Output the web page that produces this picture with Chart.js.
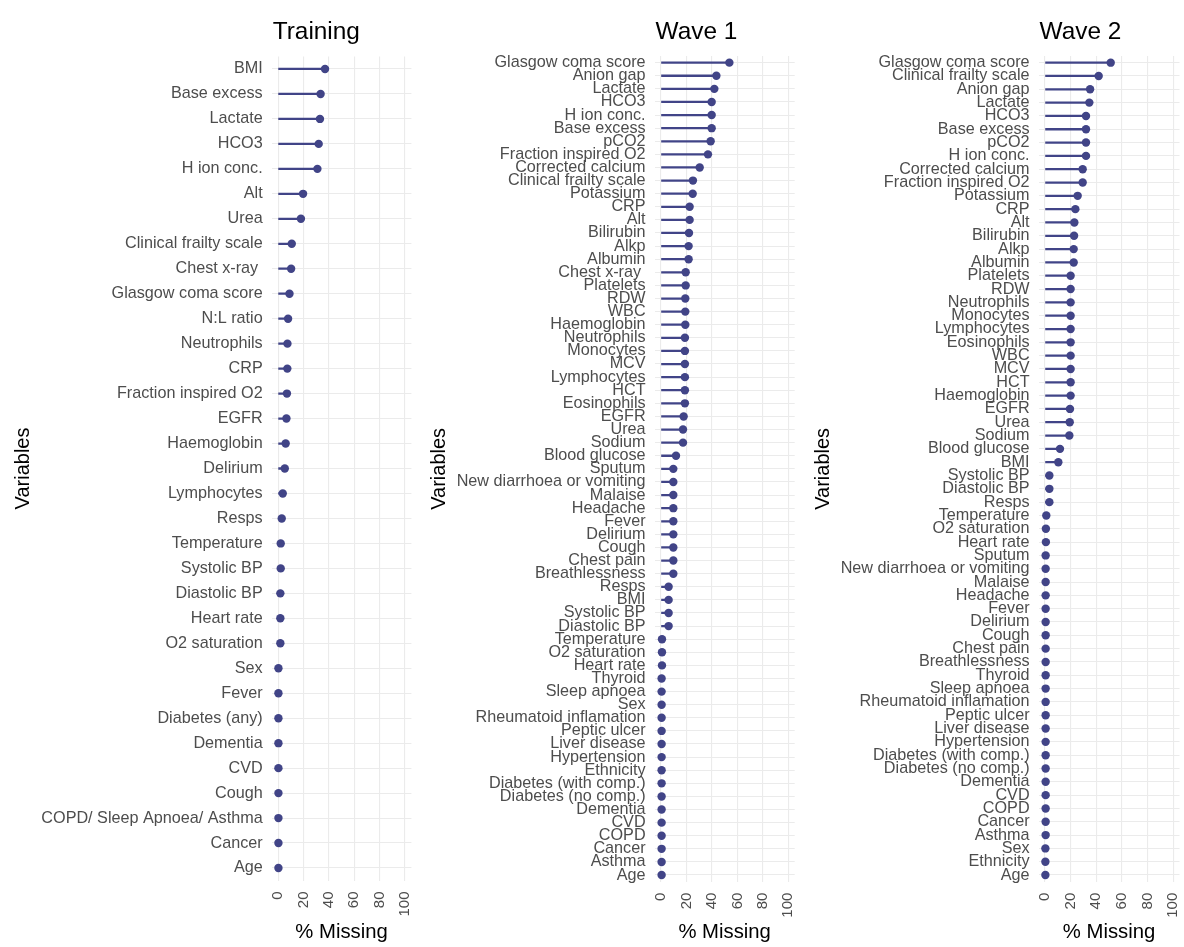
<!DOCTYPE html>
<html>
<head>
<meta charset="utf-8">
<script src="https://cdn.jsdelivr.net/npm/chart.js@4.4.1/dist/chart.umd.min.js"></script>
<style>
  html, body { margin: 0; padding: 0; background: #ffffff; }
  body { width: 1184px; height: 947px; position: relative; overflow: hidden; }
  canvas { position: absolute; top: 0; }
</style>
</head>
<body>
<canvas id="c1" width="420" height="947" style="left:0px"></canvas>
<canvas id="c2" width="380" height="947" style="left:420px"></canvas>
<canvas id="c3" width="384" height="947" style="left:800px"></canvas>
<script>
// ---- data ----
const panelTitles = ["Training", "Wave 1", "Wave 2"];
const xTicks = [0, 20, 40, 60, 80, 100];
const xTitle = "% Missing";
const yTitle = "Variables";

const trainingLabels = ["BMI", "Base excess", "Lactate", "HCO3", "H ion conc.", "Alt", "Urea",
  "Clinical frailty scale", "Chest x-ray ", "Glasgow coma score", "N:L ratio", "Neutrophils", "CRP",
  "Fraction inspired O2", "EGFR", "Haemoglobin", "Delirium", "Lymphocytes", "Resps", "Temperature",
  "Systolic BP", "Diastolic BP", "Heart rate", "O2 saturation", "Sex", "Fever", "Diabetes (any)",
  "Dementia", "CVD", "Cough", "COPD/ Sleep Apnoea/ Asthma", "Cancer", "Age"];
const trainingValues = [37, 33.5, 33, 32, 31, 19.7, 18,
  10.8, 10.3, 9, 7.9, 7.4, 7.3,
  7, 6.6, 6, 5.3, 3.7, 2.9, 2.1,
  2.1, 1.8, 1.8, 1.8, 0.3, 0.3, 0.3,
  0.3, 0.3, 0.3, 0.3, 0.3, 0.3];

const wave1Labels = ["Glasgow coma score", "Anion gap", "Lactate", "HCO3", "H ion conc.", "Base excess",
  "pCO2", "Fraction inspired O2", "Corrected calcium", "Clinical frailty scale", "Potassium", "CRP", "Alt",
  "Bilirubin", "Alkp", "Albumin", "Chest x-ray ", "Platelets", "RDW", "WBC", "Haemoglobin", "Neutrophils",
  "Monocytes", "MCV", "Lymphocytes", "HCT", "Eosinophils", "EGFR", "Urea", "Sodium", "Blood glucose",
  "Sputum", "New diarrhoea or vomiting", "Malaise", "Headache", "Fever", "Delirium", "Cough", "Chest pain",
  "Breathlessness", "Resps", "BMI", "Systolic BP", "Diastolic BP", "Temperature", "O2 saturation",
  "Heart rate", "Thyroid", "Sleep apnoea", "Sex", "Rheumatoid inflamation", "Peptic ulcer",
  "Liver disease", "Hypertension", "Ethnicity", "Diabetes (with comp.)", "Diabetes (no comp.)",
  "Dementia", "CVD", "COPD", "Cancer", "Asthma", "Age"];
const wave1Values = [53.7, 43.5, 41.9, 39.8, 39.8, 39.8,
  39, 36.9, 30.4, 25.1, 24.9, 22.5, 22.5,
  22, 21.7, 21.7, 19.4, 19.4, 19.1, 19.1, 19.1, 18.8,
  18.8, 18.8, 18.8, 18.8, 18.8, 17.8, 17.3, 17.3, 11.8,
  9.7, 9.7, 9.7, 9.7, 9.7, 9.7, 9.7, 9.7,
  9.7, 6, 6, 6, 6, 0.8, 0.8,
  0.8, 0.5, 0.5, 0.5, 0.5, 0.5,
  0.5, 0.5, 0.5, 0.5, 0.5,
  0.5, 0.5, 0.5, 0.5, 0.5, 0.5];

const wave2Labels = ["Glasgow coma score", "Clinical frailty scale", "Anion gap", "Lactate", "HCO3",
  "Base excess", "pCO2", "H ion conc.", "Corrected calcium", "Fraction inspired O2", "Potassium", "CRP",
  "Alt", "Bilirubin", "Alkp", "Albumin", "Platelets", "RDW", "Neutrophils", "Monocytes", "Lymphocytes",
  "Eosinophils", "WBC", "MCV", "HCT", "Haemoglobin", "EGFR", "Urea", "Sodium", "Blood glucose", "BMI",
  "Systolic BP", "Diastolic BP", "Resps", "Temperature", "O2 saturation", "Heart rate", "Sputum",
  "New diarrhoea or vomiting", "Malaise", "Headache", "Fever", "Delirium", "Cough", "Chest pain",
  "Breathlessness", "Thyroid", "Sleep apnoea", "Rheumatoid inflamation", "Peptic ulcer", "Liver disease",
  "Hypertension", "Diabetes (with comp.)", "Diabetes (no comp.)", "Dementia", "CVD", "COPD", "Cancer",
  "Asthma", "Sex", "Ethnicity", "Age"];
const wave2Values = [51.3, 41.9, 35.2, 34.6, 32,
  32, 32, 32, 29.4, 29.4, 25.5, 23.7,
  22.9, 22.7, 22.4, 22.4, 20, 20, 20, 20, 20,
  20, 20, 20, 20, 20, 19.5, 19.3, 19, 11.7, 10.4,
  3.4, 3.4, 3.4, 1, 0.7, 0.7, 0.5,
  0.5, 0.5, 0.5, 0.5, 0.5, 0.5, 0.5,
  0.5, 0.5, 0.5, 0.5, 0.5, 0.5,
  0.5, 0.5, 0.5, 0.5, 0.5, 0.5, 0.5,
  0.5, 0.3, 0.3, 0.3];

// ---- styling ----
const FONT = "'Liberation Sans', Arial, Helvetica, sans-serif";
Chart.defaults.font.family = FONT;
const MARK = '#414487';
const TEXT = '#4d4d4d';
const GRID = '#ebebeb';

const panelTitlePlugin = {
  id: 'panelTitle',
  afterDraw(chart, args, opts) {
    const ctx = chart.ctx;
    ctx.save();
    ctx.font = '24.4px ' + FONT;
    ctx.fillStyle = '#000000';
    ctx.textAlign = 'left';
    ctx.textBaseline = 'alphabetic';
    ctx.fillText(opts.text, chart.chartArea.left + 1, 38.5);
    ctx.restore();
  }
};

function makePanel(canvasId, title, labels, values, geo) {
  return new Chart(document.getElementById(canvasId), {
    type: 'bar',
    data: {
      labels: labels,
      datasets: [
        {
          type: 'line',
          indexAxis: 'y',
          data: values,
          showLine: false,
          pointRadius: 4.2,
          pointHoverRadius: 4.2,
          pointBackgroundColor: MARK,
          pointBorderColor: MARK,
          pointBorderWidth: 0,
          order: 0
        },
        {
          type: 'bar',
          indexAxis: 'y',
          data: values,
          backgroundColor: MARK,
          borderWidth: 0,
          barThickness: 1.6,
          order: 1
        }
      ]
    },
    options: {
      indexAxis: 'y',
      responsive: false,
      animation: false,
      devicePixelRatio: 1,
      layout: { autoPadding: false, padding: { top: geo.top, bottom: 0, left: 0, right: geo.right } },
      plugins: {
        legend: { display: false },
        tooltip: { enabled: false },
        panelTitle: { text: title }
      },
      scales: {
        x: {
          type: 'linear',
          min: -5,
          max: 105,
          afterBuildTicks: (s) => { s.ticks = xTicks.map(v => ({ value: v })); },
          afterFit: (s) => {
            s.height = geo.xAxisH;
            s.paddingLeft = 0; s.paddingRight = 0; s.paddingTop = 0; s.paddingBottom = 0;
          },
          grid: { color: GRID, lineWidth: 1.1, drawTicks: false },
          border: { display: false },
          ticks: {
            color: TEXT,
            font: { size: 15 },
            minRotation: 90,
            maxRotation: 90,
            padding: 11,
            autoSkip: false
          },
          title: {
            display: true,
            text: xTitle,
            color: '#000000',
            font: { size: 20.3 },
            padding: { top: 0, bottom: 2 }
          }
        },
        y: {
          type: 'category',
          offset: true,
          afterFit: (s) => {
            s.width = geo.yAxisW;
            s.paddingLeft = 0; s.paddingRight = 0; s.paddingTop = 0; s.paddingBottom = 0;
          },
          grid: { color: GRID, lineWidth: 1.1, drawTicks: false, offset: false },
          border: { display: false },
          ticks: {
            color: TEXT,
            font: { size: 16.2 },
            padding: 9,
            autoSkip: false
          },
          title: {
            display: true,
            text: yTitle,
            color: '#000000',
            font: { size: 20 },
            padding: { top: geo.yTitlePad, bottom: 0 }
          }
        }
      }
    },
    plugins: [panelTitlePlugin]
  });
}

makePanel('c1', panelTitles[0], trainingLabels, trainingValues,
  { top: 56.5, right: 8.6, xAxisH: 66.5, yAxisW: 271.7, yTitlePad: 11 });
makePanel('c2', panelTitles[1], wave1Labels, wave1Values,
  { top: 56.1, right: 5.3, xAxisH: 65.4, yAxisW: 234.6, yTitlePad: 7 });
makePanel('c3', panelTitles[2], wave2Labels, wave2Values,
  { top: 56.0, right: 4.5, xAxisH: 65.3, yAxisW: 238.6, yTitlePad: 11 });
</script>
</body>
</html>
